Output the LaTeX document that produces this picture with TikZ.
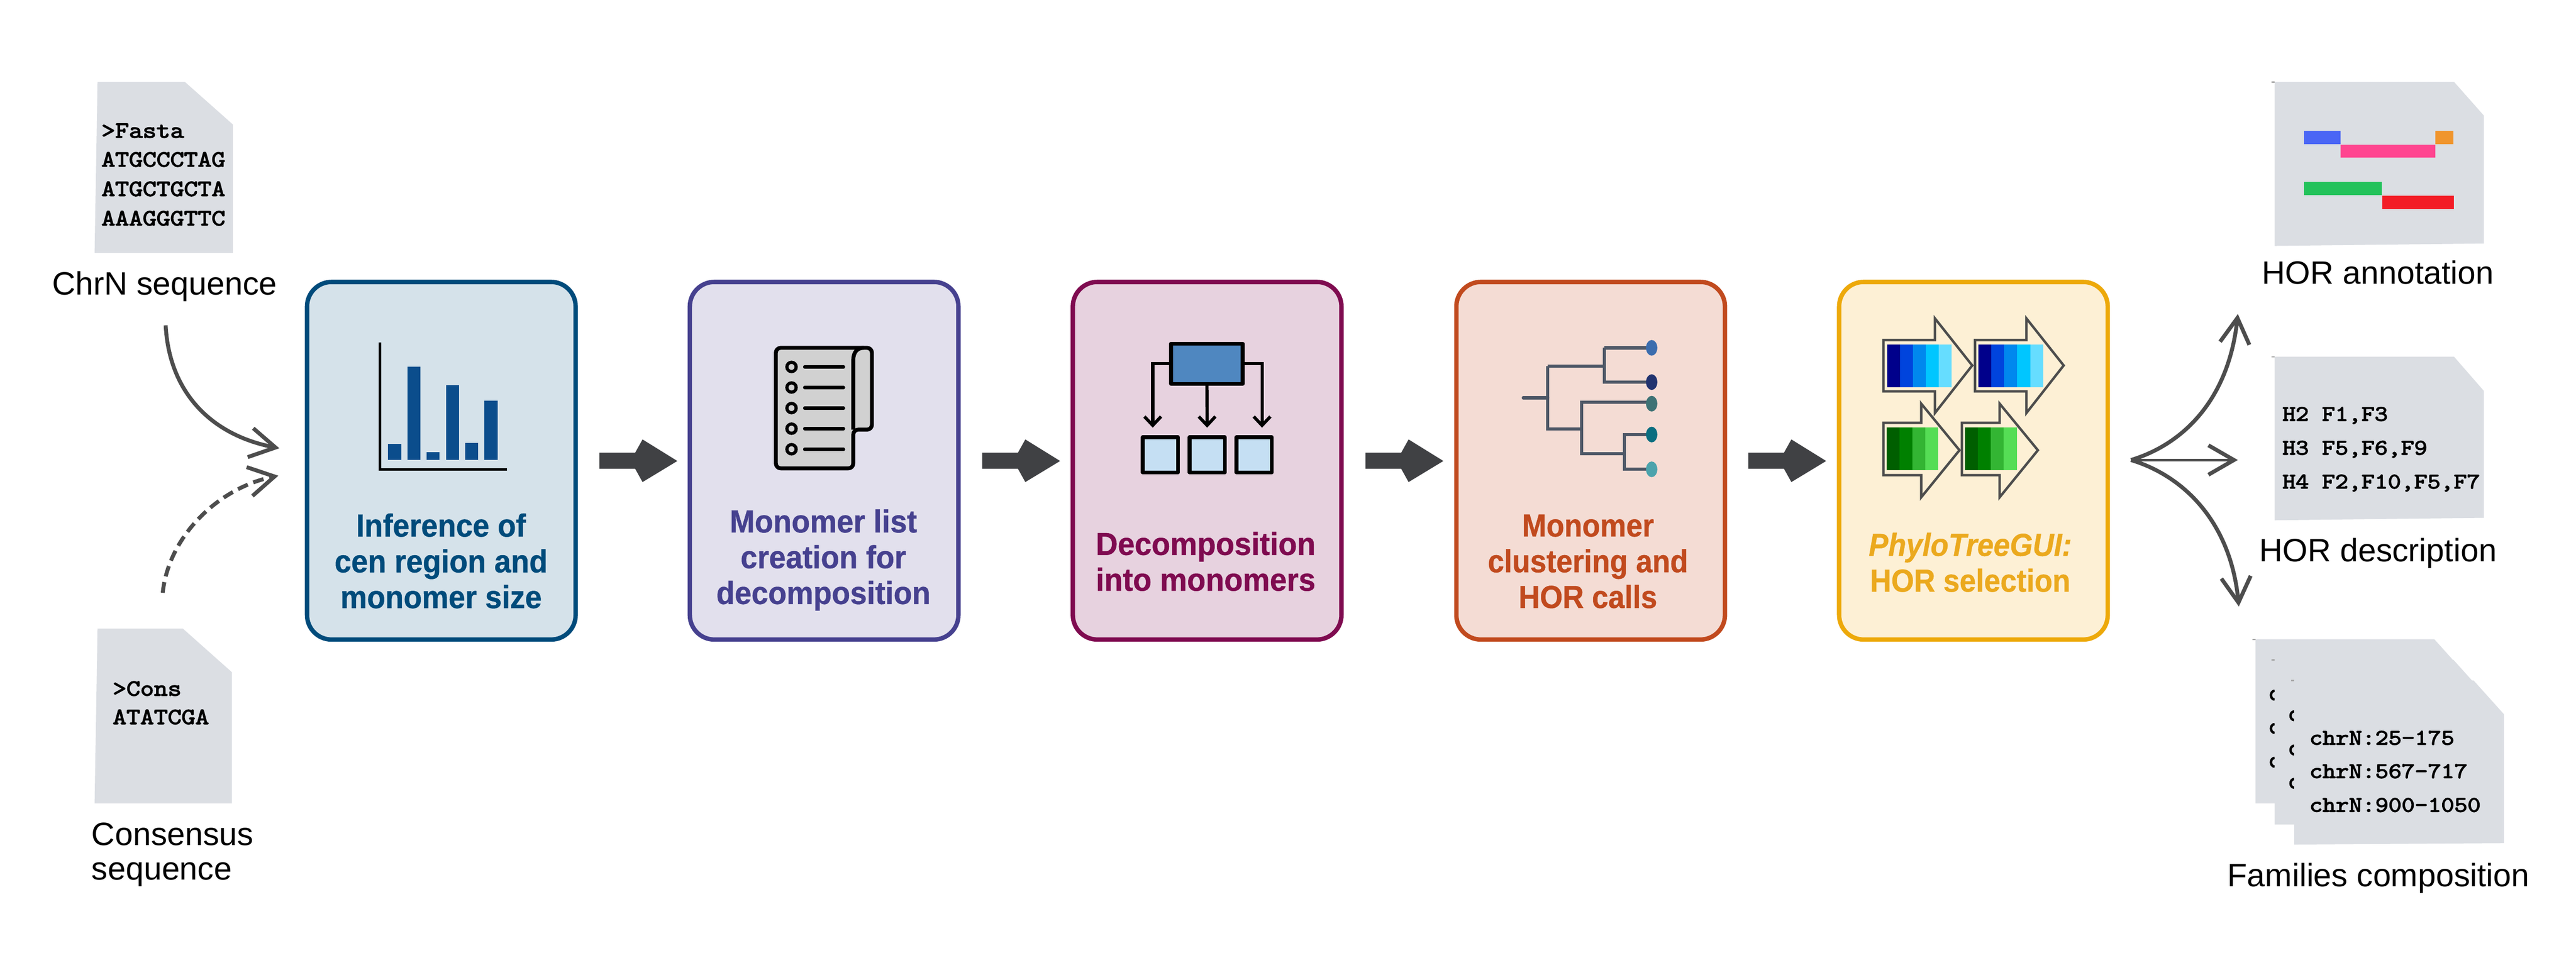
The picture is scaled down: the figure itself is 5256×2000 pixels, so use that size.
\documentclass[tikz,border=0pt]{standalone}
\usepackage{fontspec}
\setmainfont{Liberation Sans}
\newfontfamily\seqfont{Latin Modern Mono}[FakeBold=3.5,FakeStretch=1.16]
\usetikzlibrary{arrows.meta,calc}
\definecolor{docgray}{HTML}{DBDEE3}
\definecolor{arrowdark}{HTML}{404144}
\definecolor{curvegray}{HTML}{4D4D4D}
\definecolor{sOne}{HTML}{004B7B}\definecolor{fOne}{HTML}{D5E2EA}
\definecolor{sTwo}{HTML}{46418F}\definecolor{fTwo}{HTML}{E2E0ED}
\definecolor{sThree}{HTML}{7F0B50}\definecolor{fThree}{HTML}{E7D2DF}
\definecolor{sFour}{HTML}{C14A1E}\definecolor{fFour}{HTML}{F4DCD4}
\definecolor{sFive}{HTML}{EDA90A}\definecolor{fFive}{HTML}{FDF0D5}
\definecolor{tFive}{HTML}{EBA91E}
\definecolor{barblue}{HTML}{0B4D8C}
\definecolor{treeline}{HTML}{4D5766}
\definecolor{mainblue}{HTML}{4F87C0}
\definecolor{subblue}{HTML}{C5DFF3}
\definecolor{barA}{HTML}{4A66F5}
\definecolor{barB}{HTML}{FF4590}
\definecolor{barC}{HTML}{F0952D}
\definecolor{barD}{HTML}{22C25A}
\definecolor{barE}{HTML}{F31C26}
\tikzset{
  docshape/.style={fill=docgray,draw=none},
  tick/.style={fill=black!35,draw=none},
  labeltext/.style={font=\fontsize{66}{70}\selectfont,inner sep=0pt,outer sep=0pt,anchor=base},
  seqtext/.style={font=\seqfont\fontsize{47}{47}\selectfont,inner sep=0pt,outer sep=0pt,anchor=base west},
  seqsmall/.style={font=\seqfont\fontsize{45}{45}\selectfont,inner sep=0pt,outer sep=0pt,anchor=base west},
  stepbox/.style={rounded corners=50pt,line width=9pt,minimum width=548pt,minimum height=730pt,inner sep=0pt,outer sep=0pt},
  title/.style={font=\bfseries\fontsize{65}{73}\selectfont\addfontfeature{FakeStretch=#1,FakeBold=0.8},align=center,inner sep=0pt,outer sep=0pt,anchor=center},
  blockarrow/.style={fill=arrowdark,draw=none},
  flow/.style={draw=curvegray,line width=8pt,-{Straight Barb[length=52pt,width=60pt,line width=8pt]}},
  flowdash/.style={flow,dash pattern=on 22pt off 12pt},
  icon/.style={draw=black,line width=8pt,line join=round},
  subrect/.style={icon,fill=#1,minimum width=72pt,minimum height=72pt,inner sep=0pt,outer sep=0pt},
  mainrect/.style={icon,fill=#1,minimum width=146pt,minimum height=82pt,inner sep=0pt,outer sep=0pt},
  smallarrow/.style={draw=black,line width=6.5pt,-{Straight Barb[length=18pt,width=34pt,line width=6.5pt]}},
  branch/.style={draw=treeline,line width=6.5pt},
  outlinearrow/.style={draw=curvegray,line width=5pt,fill=none,line join=miter}
}
\newcommand{\blockat}[1]{\fill[blockarrow,shift={(#1)}] (0,-17) -- (73,-17) -- (88,-44) -- (159,0) -- (88,43) -- (73,16) -- (0,16) -- cycle;}
\begin{document}
\begin{tikzpicture}[x=1pt,y=-1pt]
\useasboundingbox (0,0) rectangle (5256,2000);
\fill[white] (0,0) rectangle (5256,2000);

% input documents
\fill[docshape] (199,167) -- (377,167) -- (475,254) -- (475,516) -- (193,516) -- cycle;
\node[seqtext] (fa1) at (207,281) {>Fasta};
\node[seqtext] (fa2) at (207,340) {ATGCCCTAG};
\node[seqtext] (fa3) at (207,400) {ATGCTGCTA};
\node[seqtext] (fa4) at (207,460) {AAAGGGTTC};
\node[labeltext] (chrn) at (336,602) {ChrN sequence};

\fill[docshape] (199,1283) -- (373,1283) -- (473,1372) -- (473,1640) -- (193,1640) -- cycle;
\node[seqtext] (co1) at (230,1420) {>Cons};
\node[seqtext] (co2) at (230,1478) {ATATCGA};
\node[labeltext,anchor=base west] (cons1) at (187,1726) {Consensus};
\node[labeltext,anchor=base west] (cons2) at (187,1796) {sequence};

% step boxes
\node[stepbox,draw=sOne,fill=fOne] (b1) at (900.5,940.5) {};
\node[stepbox,draw=sTwo,fill=fTwo] (b2) at (1681.5,940.5) {};
\node[stepbox,draw=sThree,fill=fThree] (b3) at (2463,940.5) {};
\node[stepbox,draw=sFour,fill=fFour] (b4) at (3245.5,940.5) {};
\node[stepbox,draw=sFive,fill=fFive] (b5) at (4026.5,940.5) {};

\node[title=0.94,text=sOne] (t1) at (900,1145) {Inference of\\cen region and\\monomer size};
\node[title=0.945,text=sTwo] (t2) at (1680,1143) {Monomer list\\creation for\\decomposition};
\node[title=0.955,text=sThree] (t3) at (2460,1146) {Decomposition\\into monomers};
\node[title=0.92,text=sFour] (t4) at (3240,1146) {Monomer\\clustering and\\HOR calls};
\node[title=0.92,text=tFive] (t5) at (4020,1148) {\itshape\addfontfeature{FakeStretch=0.92,FakeBold=0.8}PhyloTreeGUI:\\HOR selection};

% block arrows between boxes
\blockat{1223,941}
\blockat{2004,941}
\blockat{2786,941}
\blockat{3567,941}

% input curves
\coordinate (inA) at (338,664);
\coordinate (inAend) at (570,915);
\coordinate (inB) at (332,1210);
\coordinate (inBend) at (568,971);
\draw[flow] (inA) .. controls (345,800) and (430,888) .. (inAend);
\draw[flowdash] (inB) .. controls (345,1090) and (450,995) .. (inBend);

% fan out
\coordinate (fan) at (4348,939);
\coordinate (fanT) at (4566,641);
\coordinate (fanM) at (4566,939);
\coordinate (fanB) at (4568,1238);
\draw[flow] (fan) .. controls (4460,905) and (4548,810) .. (fanT);
\draw[flow,line width=5pt] (fan) -- (fanM);
\draw[flow] (fan) .. controls (4460,973) and (4552,1070) .. (fanB);

% bar chart icon
\foreach \xa/\xb/\yt in {792/819/906,832/858/748,870/897/923,910/937/786,949/976/904,988/1015/818}
  \fill[barblue] (\xa,\yt) rectangle (\xb,939);
\draw[black,line width=5pt] (775,699) -- (775,958) -- (1034,958);

% list icon
\draw[icon,fill=black!18,rounded corners=10pt] (1741,956) -- (1583,956) -- (1583,710) -- (1779,710) -- (1779,877) -- (1741,877) -- cycle;
\draw[icon] (1741,877) -- (1741,735) .. controls (1741,718) and (1750,710) .. (1762,710);
\foreach \y in {749,791,833,875,917}{
  \draw[black,line width=6.5pt] (1615,\y) circle (9.5);
  \draw[black,line width=7pt,line cap=round] (1642,\y) -- (1721,\y);
}

% decomposition icon
\node[mainrect=mainblue] (mr) at (2462.5,742.5) {};
\node[subrect=subblue] (s1) at (2367.5,928.5) {};
\node[subrect=subblue] (s2) at (2463,928.5) {};
\node[subrect=subblue] (s3) at (2559,928.5) {};
\coordinate (d1) at (2352,873);
\coordinate (d2) at (2463,873);
\coordinate (d3) at (2575,873);
\draw[smallarrow] (mr.west) -| (d1);
\draw[smallarrow] (mr.south) -- (d2);
\draw[smallarrow] (mr.east) -| (d3);

% tree icon
\draw[branch,line cap=round] (3108,812) -- (3158,812);
\draw[branch] (3273,710) -- (3369,710) (3273,710) -- (3273,780) -- (3369,780);
\draw[branch] (3158,747) -- (3273,747) (3158,747) -- (3158,876) -- (3227,876);
\draw[branch] (3369,821) -- (3227,821) -- (3227,926) -- (3314,926);
\draw[branch] (3369,887) -- (3314,887) -- (3314,958) -- (3369,958);
\foreach \y/\c in {710/3B6DAE,780/21336F,824/3D7275,887/0A6E80,958/4BA3AC}{
  \definecolor{tipc}{HTML}{\c}
  \fill[tipc] (3370,\y) ellipse (11.5 and 16);
}

% outlined coloured arrows
\foreach \dx in {0,186.6}{
  \begin{scope}[shift={(\dx,0)}]
    \foreach \xa/\c in {0/00008B,1/0044DD,2/0088EE,3/00C6FF,4/66DDFF}{
      \definecolor{segc}{HTML}{\c}
      \fill[segc] ({3850+\xa*26.4},703) rectangle ({3850+(\xa+1)*26.4},790);
    }
    \draw[outlinearrow] (3843,694) -- (3948,694) -- (3948,650) -- (4024,746) -- (3948,843) -- (3948,799) -- (3843,799) -- cycle;
  \end{scope}
}
\foreach \dx in {0,160}{
  \begin{scope}[shift={(\dx,0)}]
    \foreach \xa/\c in {0/005F00,1/008000,2/33B533,3/55DD55}{
      \definecolor{segc}{HTML}{\c}
      \fill[segc] ({3849+\xa*26.5},873) rectangle ({3849+(\xa+1)*26.5},960);
    }
    \draw[outlinearrow] (3843,863) -- (3920,863) -- (3920,824) -- (3998,919) -- (3920,1015) -- (3920,970) -- (3843,970) -- cycle;
  \end{scope}
}

% output documents
\fill[docshape] (4641,167) -- (5007,167) -- (5068,236) -- (5068,497) -- (4641,502) -- cycle;
\fill[tick] (4635,166) rectangle (4641,169);
\fill[barA] (4701,267) rectangle (4776,294);
\fill[barB] (4776,295) rectangle (4969,322);
\fill[barC] (4969,267) rectangle (5006,294);
\fill[barD] (4701,371) rectangle (4860,398);
\fill[barE] (4861,399) rectangle (5007,427);
\node[labeltext] (ann) at (4852,580) {HOR annotation};

\fill[docshape] (4641,728) -- (5007,728) -- (5068,798) -- (5068,1057) -- (4641,1062) -- cycle;
\fill[tick] (4635,727) rectangle (4641,730);
\node[seqsmall] (h2) at (4657,859) {H2 F1,F3};
\node[seqsmall] (h3) at (4657,928) {H3 F5,F6,F9};
\node[seqsmall] (h4) at (4657,997) {H4 F2,F10,F5,F7};
\node[labeltext] (desc) at (4852,1146) {HOR description};

\fill[docshape] (4602,1305) -- (4967,1305) -- (5029,1374) -- (5029,1640) -- (4602,1640) -- cycle;
\fill[tick] (4596,1304) rectangle (4602,1307);
\foreach \y in {1419,1487,1556}
  \draw[black,line width=5pt] (4641,\y-9) .. controls (4631,\y-8) and (4631,\y+8) .. (4641,\y+9);
\fill[docshape] (4641,1347) -- (5006,1347) -- (5068,1416) -- (5068,1683) -- (4641,1683) -- cycle;
\fill[tick] (4635,1346) rectangle (4641,1349);
\foreach \y in {1461,1531,1599}
  \draw[black,line width=5pt] (4681,\y-9) .. controls (4671,\y-8) and (4671,\y+8) .. (4681,\y+9);
\fill[docshape] (4681,1389) -- (5047,1389) -- (5109,1458) -- (5109,1721) -- (4681,1724) -- cycle;
\fill[tick] (4675,1388) rectangle (4681,1391);
\node[seqsmall] (f1) at (4712,1520) {chrN:25–175};
\node[seqsmall] (f2) at (4712,1588) {chrN:567–717};
\node[seqsmall] (f3) at (4712,1657) {chrN:900–1050};
\node[labeltext] (fam) at (4853,1810) {Families composition};
\end{tikzpicture}
\end{document}
